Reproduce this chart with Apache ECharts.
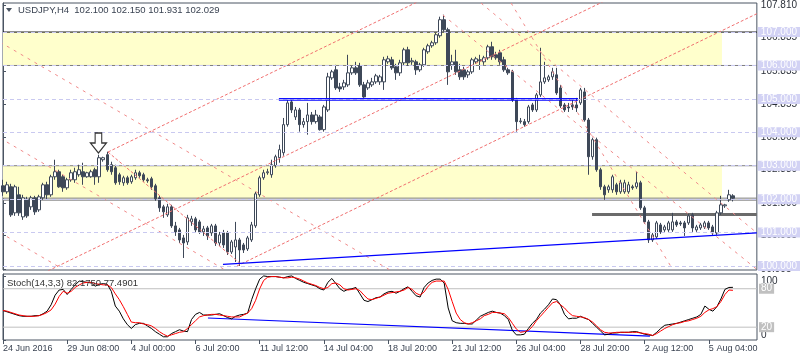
<!DOCTYPE html>
<html><head><meta charset="utf-8">
<script src="https://cdn.jsdelivr.net/npm/echarts@6/dist/echarts.min.js"></script>
<style>html,body{margin:0;padding:0;background:#fff}#c{width:800px;height:360px}</style>
</head><body><div id="c"></div>
<script>
// ---------- data ----------
const xLabels = ['24 Jun 2016','29 Jun 08:00','4 Jul 00:00','6 Jul 20:00','11 Jul 12:00','14 Jul 04:00','18 Jul 20:00','21 Jul 12:00','26 Jul 04:00','28 Jul 20:00','2 Aug 12:00','5 Aug 04:00'];
const labelEvery = 16;
const barSlots = 189;

const opens = [102.40,102.22,102.37,101.59,102.13,101.47,101.98,101.77,102.04,101.68,
102.04,102.43,102.13,102.67,102.82,102.67,102.34,102.58,102.58,102.73,
102.82,102.67,102.67,102.88,102.67,103.18,103.33,103.03,102.94,102.73,
102.49,102.64,102.52,102.64,102.79,102.73,102.58,102.61,102.40,102.04,
101.77,101.53,101.77,101.20,101.08,100.84,100.72,101.32,101.41,101.32,
101.02,101.14,100.99,101.20,100.69,100.99,100.99,100.42,100.57,100.78,
100.63,100.51,100.78,101.20,102.13,102.64,102.79,102.73,103.00,103.24,
103.39,104.23,104.91,104.46,104.67,104.23,104.32,104.52,104.32,104.46,
104.08,104.67,105.63,105.87,105.36,105.36,105.42,105.78,105.93,105.99,
105.42,105.33,105.42,105.51,105.51,105.51,106.11,106.17,105.96,105.78,
106.08,106.47,106.11,106.11,105.87,106.02,106.41,106.59,106.68,106.89,
107.37,107.07,106.02,106.11,105.87,105.87,105.72,105.81,106.11,106.17,
106.11,106.23,106.56,106.32,106.38,106.17,105.87,105.81,104.97,104.32,
104.32,104.32,104.82,104.67,105.12,105.51,105.57,105.66,105.72,105.33,
104.82,104.76,104.82,104.82,104.88,105.21,104.37,103.27,103.78,102.88,
102.37,102.28,102.28,102.43,102.22,102.22,102.22,102.37,102.37,102.49,
101.74,101.32,100.78,100.87,101.23,101.08,101.08,101.08,101.32,101.29,
101.29,101.29,101.53,101.08,101.14,101.17,101.29,101.17,100.99,101.59,
101.80,101.98,102.100];
const highs = [102.58,102.52,102.46,102.43,102.37,102.13,102.07,102.10,102.10,102.13,
102.49,102.52,102.73,103.18,102.88,102.73,102.64,102.88,102.94,103.03,
103.09,102.82,102.88,102.94,103.33,103.27,103.42,103.12,103.03,102.79,
102.70,102.70,102.73,102.88,102.85,102.79,102.64,102.67,102.46,102.10,
101.83,101.86,101.83,101.32,101.14,100.93,101.53,101.50,101.47,101.38,
101.20,101.20,101.26,101.26,101.02,101.08,101.05,100.78,101.32,100.84,
100.69,100.90,101.32,102.22,102.70,102.88,102.91,103.18,103.33,103.63,
104.43,104.97,105.00,104.76,104.73,104.43,104.88,104.61,104.67,104.52,
104.82,105.78,105.87,106.02,105.48,105.57,106.32,105.99,106.11,106.08,
105.51,105.57,105.63,105.75,105.72,106.26,106.29,106.26,106.05,106.17,
106.53,106.56,106.23,106.17,106.08,106.53,106.65,106.74,106.98,107.46,
107.52,107.13,106.32,106.47,106.05,105.96,105.87,106.23,106.26,106.32,
106.29,106.62,106.71,106.41,106.47,106.26,105.93,105.87,105.03,104.43,
104.40,104.82,104.88,105.18,106.53,106.11,105.72,105.93,105.93,105.42,
104.88,104.88,104.97,105.03,105.33,105.33,104.43,103.84,103.84,102.94,
102.43,102.43,102.73,102.49,102.58,102.58,102.52,102.43,102.82,102.55,
101.80,101.38,100.99,101.35,101.29,101.23,101.35,101.59,101.38,101.35,
101.35,101.56,101.59,101.23,101.29,101.35,101.35,101.23,101.65,102.10,
101.86,102.28,102.150];
const lows = [102.10,102.16,101.47,101.50,101.50,101.38,101.44,101.68,101.53,101.62,
101.98,101.98,102.07,102.58,102.34,102.22,102.28,102.52,102.49,102.67,
102.43,102.64,102.64,102.43,102.49,103.12,102.82,102.73,102.43,102.43,
102.40,102.43,102.46,102.58,102.64,102.52,102.49,102.28,101.95,101.62,
101.44,101.47,101.14,100.90,100.69,100.24,100.63,101.20,100.99,100.96,
100.90,100.78,100.90,100.60,100.60,100.54,100.33,100.36,100.12,100.00,
100.39,100.45,100.72,101.14,102.07,102.58,102.73,102.64,102.94,103.09,
103.30,104.17,104.58,104.37,104.02,104.14,103.93,104.23,104.26,104.05,
104.02,104.61,105.57,105.27,105.21,105.27,105.36,105.72,105.72,105.36,
105.03,105.27,105.36,105.45,105.42,105.27,106.05,105.87,105.57,105.69,
105.99,105.99,106.02,105.72,105.81,105.96,106.35,106.53,106.62,106.83,
107.01,105.42,105.87,105.72,105.57,105.57,105.63,105.75,106.05,105.87,
106.02,106.17,106.17,106.17,106.02,105.81,105.72,104.91,104.02,104.26,
104.17,104.26,104.61,104.61,105.06,105.45,105.51,105.57,105.12,104.73,
104.61,104.61,104.67,104.61,104.82,104.32,102.73,103.18,102.82,102.28,
101.98,102.19,102.19,102.13,102.16,102.16,102.16,102.28,102.31,101.68,
101.26,100.69,100.72,100.81,100.96,101.02,101.02,101.02,101.17,101.20,
100.90,101.23,101.02,101.02,101.08,101.11,101.08,100.93,100.93,101.53,
101.74,101.92,101.931];
const closes = [102.22,102.43,101.53,102.37,101.59,102.04,101.50,102.04,101.62,102.07,
102.43,102.13,102.67,102.82,102.37,102.34,102.58,102.79,102.82,102.88,
102.67,102.79,102.82,102.67,103.24,103.24,102.88,102.82,102.49,102.52,
102.64,102.49,102.67,102.79,102.70,102.58,102.55,102.37,102.01,101.74,
101.62,101.77,101.20,101.02,100.78,100.69,101.44,101.41,101.08,101.02,
101.11,100.90,101.20,100.69,100.93,100.63,100.42,100.72,100.78,100.48,
100.48,100.84,101.23,102.16,102.64,102.79,102.82,103.03,103.27,103.48,
104.23,104.88,104.67,104.67,104.23,104.32,104.52,104.32,104.52,104.08,
104.76,105.66,105.81,105.33,105.30,105.48,105.78,105.93,105.78,105.42,
105.06,105.48,105.51,105.69,105.66,106.17,106.20,105.93,105.78,106.08,
106.47,106.08,106.14,105.87,106.02,106.47,106.59,106.68,106.92,107.37,
107.07,105.81,106.11,105.81,105.66,105.66,105.81,106.17,106.20,106.14,
106.23,106.56,106.26,106.23,106.11,105.87,105.78,104.97,104.32,104.34,
104.23,104.76,104.67,105.12,105.51,105.63,105.66,105.81,105.18,104.79,
104.67,104.73,104.76,104.73,105.27,104.37,103.27,103.78,102.88,102.37,
102.13,102.37,102.67,102.22,102.49,102.49,102.43,102.34,102.49,101.74,
101.32,100.78,100.93,101.29,101.02,101.17,101.29,101.32,101.23,101.26,
101.14,101.50,101.14,101.17,101.23,101.29,101.14,100.99,101.59,101.83,
101.83,102.13,102.029];

const stochK = [46,44,42,40,38,37,37,37,38,38,
41,45,55,70,78,79,71,79,86,92,
91,90,89,84,87,88,87,76,53,45,
33,24,18,24,26,26,22,18,13,9,
5,5,10,13,16,14,13,32,40,43,
39,39,39,40,41,38,35,33,37,39,
40,42,63,80,95,100,99,99,99,98,
97,99,100,96,93,90,88,86,84,80,
78,90,96,88,80,76,79,80,82,72,
62,60,63,66,67,72,75,76,73,76,
80,83,76,69,67,82,89,93,95,95,
89,50,30,27,26,26,25,25,31,37,
40,43,45,43,42,38,32,15,8,8,
9,18,26,32,42,48,55,64,63,55,
40,33,34,34,37,34,32,26,20,14,
8,9,11,11,12,12,12,13,13,11,
9,8,7,12,18,23,24,25,26,28,
30,32,34,36,40,53,48,45,52,64,
79,82,82.175];
const stochD = [46,45,43,41,39,38,37,37,37,38,
40,43,47,56,68,76,73,76,82,86,
89,90,90,88,87,86,86,82,72,63,
52,40,28,27,27,25,24,22,18,13,
9,6,8,10,12,13,18,24,30,36,
38,39,40,40,39,38,37,36,36,36,
39,42,49,62,80,93,98,99,99,98,
97,97,98,97,95,92,89,87,85,82,
80,82,88,89,86,80,78,79,80,77,
70,64,63,65,67,70,73,74,75,76,
78,82,79,73,70,75,84,90,92,92,
92,79,60,42,32,27,25,27,30,33,
38,40,43,43,42,41,35,26,17,12,
13,15,21,30,37,44,51,58,60,55,
50,43,38,37,36,35,32,28,22,16,
12,11,11,12,12,12,12,12,12,11,
10,9,7,10,14,18,21,24,26,27,
29,30,32,34,37,43,47,49,52,60,
71,78,77.49];

const priceTicks = [107.810,106.835,105.835,104.855,103.860,102.880,101.890,100.905,99.905];
const levelPrices = [100,101,102,103,104,105,106,107];
const stochLevels = [20,80];

// chart objects: [barIndex, price] anchors
const yellowBands = [[0,179.3,106.0,107.0],[0,179.3,102.03,103.0]];
const blackLines = [107.0];
const grayLines = [106.0,103.0,102.03,101.97];
const thickLine = [[146.9,101.54],[188,101.54]];
const blueLevel = [[[68.8,105.01],[143.4,105.01]],[[68.8,104.96],[143.4,104.96]]];
const blueTrend = [[54.86,100.05],[188,100.99]];
const redChannel = [
  [[26.18,103.41],[188,112.83]],
  [[0,99.20],[188,110.14]],
  [[58.35,100.0],[188,107.55]],
  [[26.18,103.41],[59.1,100.08]]
];
const redDashed = [
  [[109.7,107.51],[188,99.90]],
  [[-0.75,101.0],[14,99.97]],
  [[-0.75,103.83],[55.4,99.88]],
  [[-0.75,106.70],[96.5,99.88]],
  [[126.7,107.87],[167.1,99.88]],
  [[119.2,107.87],[188,100.99]]
];
const arrowAt = [23.8,103.68];
const stochTrend = [[51.1,34.3],[161.3,6.2]];

// ---------- chart ----------
const FONT = 'Liberation Sans';
const TXT = '#3a4352';
const cats = Array.from({length: barSlots}, (_, i) => String(i));
const candles = opens.map((o, i) => [o, closes[i], lows[i], highs[i]]);

function seg(points, color, width, type, z, xi, yi) {
  return {type:'line', xAxisIndex: xi ?? 2, yAxisIndex: yi ?? 0, data: points, symbol:'none',
    silent:true, animation:false, z: z ?? 4, clip:true,
    lineStyle:{color, width, type: type || 'solid'}};
}
const series = [];
series.push({type:'line', xAxisIndex:2, yAxisIndex:0, data:[[0,104]], symbol:'none', silent:true, z:0,
  lineStyle:{width:0},
  markArea:{silent:true, itemStyle:{color:'#ffffcc'},
    data: yellowBands.map(b => [{coord:[b[0], b[3]]},{coord:[b[1], b[2]]}])},
  markLine:{silent:true, symbol:'none', label:{show:false},
    lineStyle:{color:'#c9c9f0', type:[4,3], width:1},
    data: levelPrices.map(p => ({yAxis:p}))}
});
// level price boxes on the right (drawn above the axis labels)
series.push({type:'line', xAxisIndex:2, yAxisIndex:0, data:[[0,104]], symbol:'none', silent:true, z:20,
  lineStyle:{width:0},
  markLine:{silent:true, symbol:'none', lineStyle:{color:'rgba(255,255,255,0)', width:1, opacity:1},
    label:{show:true, position:'end', distance:1, color:'#ffffff', opacity:1, fontSize:10, lineHeight:9, fontFamily:FONT,
      backgroundColor:'#d2d2f4', padding:[1,4,0,3], formatter:p => Number(p.value).toFixed(3)},
    data: levelPrices.map(p => ({yAxis:p}))}
});
blackLines.forEach(p => series.push(seg([[0,p],[188,p]], '#000000', 1, 'solid', 1)));
grayLines.forEach(p => series.push(seg([[0,p],[188,p]], '#7d7d7d', 1, 'solid', 1)));
series.push(seg(thickLine, '#6b6b6b', 3, 'solid', 1));
series.push({type:'candlestick', xAxisIndex:0, yAxisIndex:0, data: candles, barWidth:3, z:3,
  itemStyle:{color:'#ffffff', color0:'#3e4858', borderColor:'#3e4858', borderColor0:'#3e4858', borderWidth:1}});
redChannel.forEach(l => series.push(seg(l, '#f07070', 1, [3,2], 4)));
redDashed.forEach(l => series.push(seg(l, '#f08a8a', 1, [3,5], 4)));
blueLevel.forEach(l => series.push(seg(l, '#0000ff', 1, 'solid', 5)));
series.push(seg(blueTrend, '#0000ff', 1.3, 'solid', 5));
series.push({type:'scatter', xAxisIndex:2, yAxisIndex:0, data:[arrowAt], z:6, silent:true,
  symbol:'path://M5,0 L12,0 L12,10 L17,10 L8.5,20 L0,10 L5,10 Z', symbolSize:[16,20],
  itemStyle:{color:'#ffffff', borderColor:'#000000', borderWidth:1.2}});
stochLevels.forEach(v => series.push(seg([[0,v],[188,v]], '#c0c0c0', 1, 'solid', 1, 3, 2)));
series.push(seg(stochTrend, '#0000ff', 1.2, 'solid', 3, 3, 2));
series.push({type:'line', xAxisIndex:1, yAxisIndex:2, data: stochK, symbol:'none', z:4,
  lineStyle:{color:'#000000', width:1}});
series.push({type:'line', xAxisIndex:1, yAxisIndex:2, data: stochD, symbol:'none', z:5,
  lineStyle:{color:'#ff0000', width:1}});

const labelIdx = (i) => i % labelEvery === 0 && i / labelEvery < xLabels.length;

const option = {
  animation:false,
  backgroundColor:'#ffffff',
  textStyle:{fontFamily:FONT},
  grid:[
    {left:3, right:43, top:3, height:267, show:true, borderColor:'#4a5462', borderWidth:1, backgroundColor:'transparent'},
    {left:3, right:43, top:274, height:66, show:true, borderColor:'#4a5462', borderWidth:1, backgroundColor:'transparent'}
  ],
  xAxis:[
    {type:'category', gridIndex:0, data:cats, boundaryGap:false, axisLine:{show:false}, axisTick:{show:false}, axisLabel:{show:false}, splitLine:{show:false}},
    {type:'category', gridIndex:1, data:cats, boundaryGap:false, axisLine:{show:false},
      axisTick:{show:true, interval: labelIdx, length:4, lineStyle:{color:'#4a5462'}},
      axisLabel:{show:true, interval: labelIdx, align:'left', margin:4, color:TXT, fontSize:9, fontFamily:FONT,
        formatter:(v, i) => xLabels[i / labelEvery] || ''},
      splitLine:{show:false}},
    {type:'value', gridIndex:0, min:0, max:188, show:false},
    {type:'value', gridIndex:1, min:0, max:188, show:false}
  ],
  yAxis:[
    {type:'value', gridIndex:0, position:'right', min:99.88, max:107.87, scale:true,
      axisLine:{show:true, lineStyle:{color:'#4a5462'}}, splitLine:{show:false},
      axisTick:{show:true, length:3, customValues: priceTicks, lineStyle:{color:'#4a5462'}},
      axisLabel:{show:true, customValues: priceTicks, margin:4, color:'#2a2f38', fontSize:10, lineHeight:10, fontFamily:FONT,
        verticalAlign:'middle', formatter:v => v.toFixed(3)}},
    {type:'value', gridIndex:1, position:'right', min:0, max:103,
      axisLine:{show:true, lineStyle:{color:'#4a5462'}}, splitLine:{show:false},
      axisTick:{show:true, length:3, customValues:[0,100], lineStyle:{color:'#4a5462'}},
      axisLabel:{show:true, customValues:[100], verticalAlign:'top', margin:4, color:'#2a2f38', fontSize:10, fontFamily:FONT}},
    {type:'value', gridIndex:1, position:'right', min:0, max:103,
      axisLine:{show:false}, axisTick:{show:false}, splitLine:{show:false},
      axisLabel:{show:true, customValues:[0], verticalAlign:'bottom', margin:4, color:'#2a2f38', fontSize:10, fontFamily:FONT}},
    {type:'value', gridIndex:1, position:'right', min:0, max:103, z:10,
      axisLine:{show:false}, axisTick:{show:false}, splitLine:{show:false},
      axisLabel:{show:true, customValues: stochLevels, margin:2, color:'#ffffff', fontSize:10, lineHeight:10, fontFamily:FONT,
        backgroundColor:'#c0c0c0', padding:[0,2,0,2]}}
  ],
  graphic:[
    {type:'polygon', shape:{points:[[6,8],[12,8],[9,12]]}, style:{fill:'#4a5462'}, z:20},
    {type:'text', left:18, top:5, z:20, style:{text:'USDJPY,H4  102.100 102.150 101.931 102.029', fill:TXT, font:'9.5px "Liberation Sans"'}},
    {type:'text', left:7, top:278, z:20, style:{text:'Stoch(14,3,3) 82.1750 77.4901', fill:'#333333', font:'9.5px "Liberation Sans"'}}
  ],
  series
};
const chart = echarts.init(document.getElementById('c'), null, {renderer:'canvas'});
chart.setOption(option);
</script></body></html>
